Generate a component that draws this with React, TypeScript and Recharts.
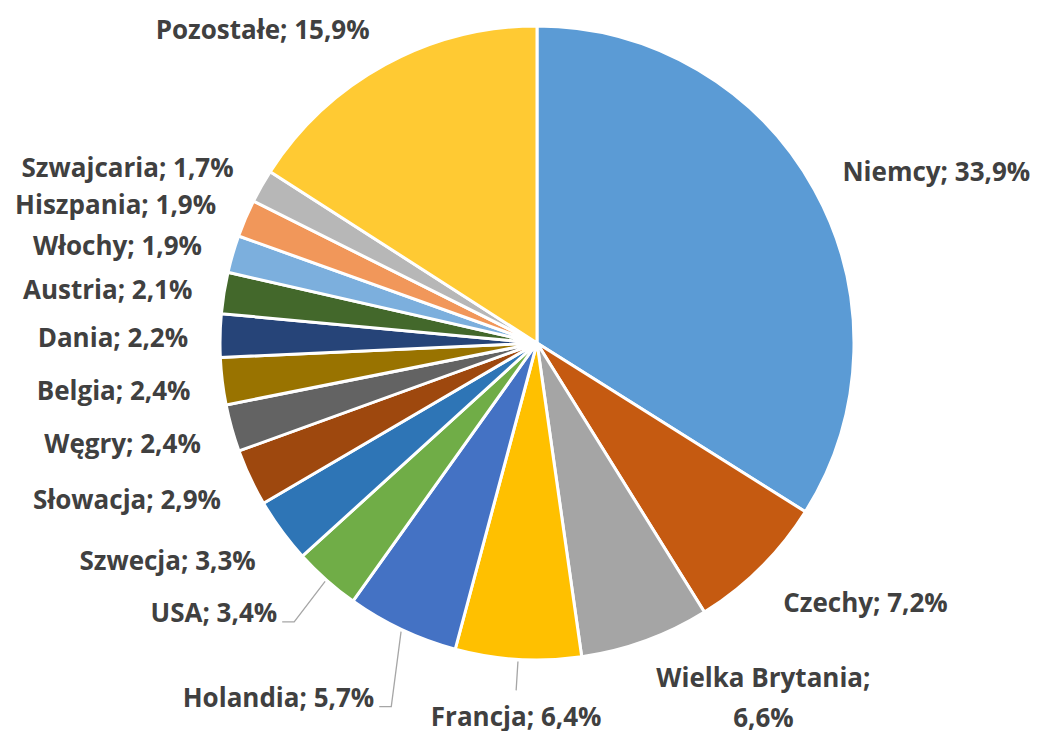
import { PieChart, Pie, Cell } from "recharts"

const countries = [
  "Niemcy",
  "Czechy",
  "Wielka Brytania",
  "Francja",
  "Holandia",
  "USA",
  "Szwecja",
  "Słowacja",
  "Węgry",
  "Belgia",
  "Dania",
  "Austria",
  "Włochy",
  "Hiszpania",
  "Szwajcaria",
  "Pozostałe",
]
const shares = [33.9, 7.2, 6.6, 6.4, 5.7, 3.4, 3.3, 2.9, 2.4, 2.4, 2.2, 2.1, 1.9, 1.9, 1.7, 15.9]
const colors = [
  "#5B9BD5", "#C55A11", "#A5A5A5", "#FFC000", "#4472C4", "#70AD47", "#2E75B6", "#9E480E",
  "#636363", "#997300", "#264478", "#43682B", "#7CAFDD", "#F1975A", "#B7B7B7", "#FFCA33",
]

const data = countries.map((name, i) => ({ name, value: shares[i] }))

const FONT_SIZE = 26
const FONT_FAMILY = "'Open Sans', sans-serif"
const LABEL_COLOR = "#404040"

// labels Excel pulled away from their slice (drawn with a leader line)
const nudges: Record<string, [number, number]> = {
  Francja: [0, 10],
  Holandia: [-14, 24],
  USA: [-28, -4],
}

let ctx: CanvasRenderingContext2D | null = null
function textWidth(s: string) {
  if (!ctx) ctx = document.createElement("canvas").getContext("2d")
  if (!ctx) return s.length * FONT_SIZE * 0.55
  ctx.font = `bold ${FONT_SIZE}px ${FONT_FAMILY}`
  return ctx.measureText(s).width
}

function renderLabel(props: any) {
  const { cx, cy, midAngle, outerRadius, name, value } = props
  const rad = Math.PI / 180
  const ux = Math.cos(-midAngle * rad)
  const uy = Math.sin(-midAngle * rad)
  const r = outerRadius + 32
  const nudge = nudges[name]
  const [nx, ny] = nudge ?? [0, 0]
  const x = cx + r * ux + nx
  const y = cy + (r + 12) * uy + ny + 3
  const anchor = ux > 0.3 ? "start" : ux < -0.3 ? "end" : "middle"
  const pct = value.toFixed(1).replace(".", ",") + "%"

  const textProps = {
    fill: LABEL_COLOR,
    fontSize: FONT_SIZE,
    fontWeight: 700,
    fontFamily: FONT_FAMILY,
    dominantBaseline: "central" as const,
  }

  let line = null
  if (nudge) {
    const sx = cx + (outerRadius + 2) * ux
    const sy = cy + (outerRadius + 2) * uy
    const pts =
      anchor === "middle"
        ? `${sx},${sy} ${x},${y - 26}`
        : `${sx},${sy} ${x + 17},${y + 10} ${x + 5},${y + 10}`
    line = <polyline points={pts} fill="none" stroke="#A6A6A6" strokeWidth={1.3} />
  }

  // long names wrap onto two lines, centred on each other
  if (name.includes(" ")) {
    const first = name + ";"
    const w = textWidth(first)
    const mx = anchor === "start" ? x + w / 2 : anchor === "end" ? x - w / 2 : x
    return (
      <g>
        {line}
        <text {...textProps} x={mx} y={y - 8} textAnchor="middle">
          {first}
        </text>
        <text {...textProps} x={mx} y={y + 32} textAnchor="middle">
          {pct}
        </text>
      </g>
    )
  }

  return (
    <g>
      {line}
      <text {...textProps} x={x} y={y} textAnchor={anchor}>
        {`${name}; ${pct}`}
      </text>
    </g>
  )
}

export default function App() {
  return (
    <div style={{ position: "absolute", left: 0, top: 0, background: "#fff" }}>
      <PieChart width={1041} height={731} margin={{ top: 0, right: 0, bottom: 0, left: 0 }}>
        <Pie
          data={data}
          dataKey="value"
          nameKey="name"
          cx={537}
          cy={343}
          outerRadius={317}
          startAngle={90}
          endAngle={-270}
          stroke="#fff"
          strokeWidth={3}
          labelLine={false}
          label={renderLabel}
          isAnimationActive={false}
        >
          {data.map((d, i) => (
            <Cell key={d.name} fill={colors[i]} />
          ))}
        </Pie>
      </PieChart>
    </div>
  )
}
